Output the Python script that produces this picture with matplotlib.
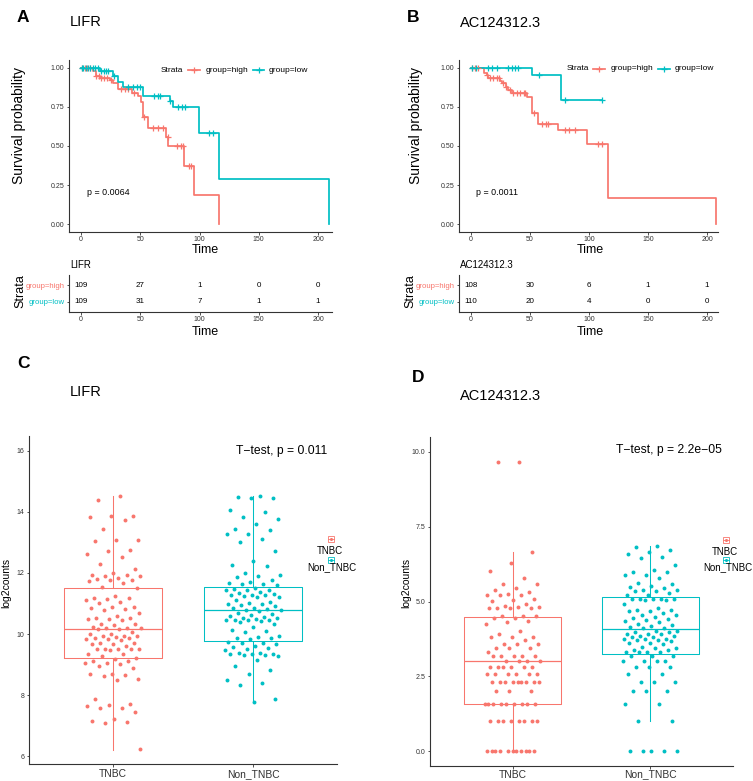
import matplotlib
matplotlib.use('Agg')
import matplotlib.pyplot as plt
import numpy as np
from matplotlib.lines import Line2D
from matplotlib.patches import Rectangle

plt.rcParams['font.family'] = ['Liberation Sans', 'DejaVu Sans']

RED = '#F8766D'
TEAL = '#00BFC4'
AXC = '#333333'

# ---------------- data ----------------
km_ticks = [0, 50, 100, 150, 200]
strata = ['group=high', 'group=low']

# LIFR Kaplan-Meier
lifr_high_time = [0, 10.4, 12.7, 16, 24.5, 27, 31.5, 43.3, 47.8, 50.6, 52, 56.8, 71.7, 73.7, 87.2, 95.4, 116.7]
lifr_high_surv = [1.0, 0.98, 0.95, 0.937, 0.925, 0.905, 0.867, 0.84, 0.82, 0.78, 0.685, 0.615, 0.56, 0.50, 0.374, 0.186, 0.0]
lifr_high_cens = [1, 3, 5, 8, 13, 15, 17, 19, 22, 25, 34, 37, 40, 45, 53, 61, 65, 69, 73, 81, 84, 86, 91, 93]
lifr_low_time = [0, 16, 27, 31.5, 35.7, 52.6, 75.1, 77.4, 99.9, 116.7, 209]
lifr_low_surv = [1.0, 0.98, 0.95, 0.91, 0.88, 0.82, 0.79, 0.75, 0.58, 0.29, 0.0]
lifr_low_cens = [0.5, 2, 4, 6, 8, 10, 12, 14, 17, 19, 21, 23, 28, 40, 44, 47, 50, 62, 65, 67, 75.5, 82, 85, 88, 108, 111]
lifr_pval = 'p = 0.0064'
lifr_risk_high = [109, 27, 1, 0, 0]
lifr_risk_low = [109, 31, 7, 1, 1]

# AC124312.3 Kaplan-Meier
ac_high_time = [0, 11.3, 13.3, 14.7, 24.6, 26, 29.4, 31.7, 34.5, 47.2, 51.5, 56.6, 73.5, 98.7, 115.7, 207.9]
ac_high_surv = [1.0, 0.968, 0.951, 0.936, 0.914, 0.90, 0.878, 0.861, 0.839, 0.814, 0.711, 0.640, 0.60, 0.512, 0.169, 0.0]
ac_high_cens = [0.5, 3.4, 6.2, 13.5, 16, 19, 22, 24, 27.4, 30, 33, 36, 38.8, 41.6, 44.5, 46, 53.7, 60, 63.6, 65.6, 80, 83, 88, 108, 111]
ac_low_time = [0, 51.7, 76, 111]
ac_low_surv = [1.0, 0.951, 0.797, 0.797]
ac_low_cens = [0.5, 4, 14.7, 18, 22, 31.7, 34.5, 37.3, 40, 58, 79.8, 111]
ac_pval = 'p = 0.0011'
ac_risk_high = [108, 30, 6, 1, 1]
ac_risk_low = [110, 20, 4, 0, 0]

# Expression boxplots
box_groups = ['TNBC', 'Non_TNBC']
lifr_tnbc = [14.53, 14.38, 13.87, 13.86, 13.84, 13.73, 13.43, 13.07, 13.07, 13.05, 12.74, 12.72, 12.61,
             12.54, 12.31, 12.12, 12.01, 11.94, 11.92, 11.90, 11.89, 11.83, 11.79, 11.77, 11.77, 11.74,
             11.68, 11.54, 11.50, 11.26, 11.19, 11.17, 11.14, 11.10, 11.06, 11.01, 10.90, 10.90, 10.84,
             10.81, 10.79, 10.70, 10.59, 10.52, 10.52, 10.48, 10.48, 10.46, 10.34, 10.32, 10.29, 10.23,
             10.21, 10.19, 10.19, 10.18, 10.15, 10.05, 10.01, 9.99, 9.95, 9.94, 9.93, 9.91, 9.88, 9.88,
             9.85, 9.83, 9.80, 9.72, 9.70, 9.68, 9.66, 9.61, 9.51, 9.51, 9.50, 9.50, 9.50, 9.49, 9.36,
             9.33, 9.29, 9.23, 9.19, 9.12, 9.12, 9.06, 9.04, 9.01, 8.95, 8.90, 8.69, 8.68, 8.65, 8.61,
             8.52, 8.50, 7.86, 7.70, 7.66, 7.64, 7.59, 7.56, 7.45, 7.20, 7.15, 7.13, 7.07, 6.22]
lifr_non = [14.53, 14.50, 14.47, 14.45, 14.07, 14.01, 13.85, 13.76, 13.60, 13.45, 13.42, 13.27, 13.27,
            13.13, 13.03, 12.72, 12.39, 12.26, 12.22, 12.00, 11.94, 11.89, 11.87, 11.76, 11.72, 11.68,
            11.63, 11.63, 11.61, 11.52, 11.46, 11.44, 11.43, 11.43, 11.39, 11.36, 11.30, 11.28, 11.28,
            11.27, 11.25, 11.21, 11.21, 11.11, 11.05, 11.02, 10.97, 10.97, 10.95, 10.92, 10.86, 10.84,
            10.83, 10.79, 10.78, 10.76, 10.70, 10.65, 10.62, 10.59, 10.56, 10.54, 10.52, 10.48, 10.47,
            10.47, 10.45, 10.45, 10.43, 10.38, 10.32, 10.24, 10.12, 10.10, 10.05, 9.93, 9.90, 9.88, 9.88,
            9.83, 9.75, 9.72, 9.71, 9.66, 9.61, 9.58, 9.53, 9.50, 9.47, 9.39, 9.38, 9.36, 9.36, 9.36,
            9.31, 9.30, 9.27, 9.14, 8.95, 8.82, 8.70, 8.50, 8.40, 8.32, 7.86, 7.78]
ac_tnbc = ([9.67, 9.67, 6.64, 6.29, 6.03, 5.80, 5.59, 5.57, 5.46, 5.38, 5.32, 5.24, 5.21, 5.21, 5.21,
            5.08, 5.05, 5.01, 4.92, 4.86, 4.81, 4.80, 4.77, 4.77, 4.77, 4.77, 4.52, 4.52, 4.52, 4.46,
            4.46, 4.35, 4.32, 4.24, 4.01, 3.91, 3.81, 3.81, 3.81, 3.72, 3.58, 3.58, 3.58, 3.46, 3.46,
            3.46, 3.32, 3.17, 3.17, 3.17, 3.17, 3.17, 3.0, 3.0, 3.0, 3.0]
           + [2.81] * 6 + [2.58] * 6 + [2.32] * 9 + [2.0] * 3 + [1.58] * 9 + [1.0] * 8 + [0.0] * 11)
ac_non = ([6.86, 6.81, 6.72, 6.64, 6.58, 6.50, 6.46, 6.22, 6.05, 5.98, 5.97, 5.90, 5.88, 5.77, 5.63,
           5.57, 5.53, 5.48, 5.46, 5.40, 5.40, 5.36, 5.36, 5.30, 5.21, 5.21, 5.10, 5.10, 5.10, 5.10,
           5.10, 5.05, 5.05, 4.91, 4.77, 4.71, 4.71, 4.69, 4.68, 4.62, 4.55, 4.54, 4.47, 4.46, 4.41,
           4.38, 4.34, 4.32, 4.24, 4.23, 4.17, 4.16, 4.13, 4.10, 4.02, 4.01, 3.99, 3.99, 3.93, 3.90,
           3.90, 3.84, 3.84, 3.82, 3.82, 3.74, 3.74, 3.74, 3.71, 3.71, 3.68, 3.60, 3.60, 3.58, 3.49,
           3.46, 3.46, 3.38, 3.38]
          + [3.32] * 4 + [3.17] * 3 + [3.0] * 4 + [2.81] * 3 + [2.58] * 2 + [2.32] * 3 + [2.0] * 3
          + [1.58] * 2 + [1.0] * 2 + [0.0] * 5)
# box statistics: (whislo, q1, med, q3, whishi)
lifr_box = [(6.21, 9.21, 10.17, 11.50, 14.52), (7.77, 9.77, 10.80, 11.55, 14.52)]
ac_box = [(0.0, 1.585, 3.0, 4.49, 6.64), (1.0, 3.24, 4.09, 5.16, 6.87)]
lifr_test = 'T\u2212test, p = 0.011'
ac_test = 'T\u2212test, p = 2.2e\u221205'

# ---------------- layout helpers ----------------
W, H = 753, 781
fig = plt.figure(figsize=(W / 100, H / 100), dpi=100)


def add_ax(l, t, r, b):
    return fig.add_axes([l / W, 1 - b / H, (r - l) / W, (b - t) / H])


def ftext(x, y, s, **kw):
    kw.setdefault('va', 'center')
    fig.text(x / W, 1 - y / H, s, **kw)


def style(ax):
    for s in ['top', 'right']:
        ax.spines[s].set_visible(False)
    for s in ['left', 'bottom']:
        ax.spines[s].set_color(AXC)
        ax.spines[s].set_linewidth(0.8)
    ax.tick_params(length=1.8, width=0.6, color=AXC, labelsize=5, labelcolor=AXC, pad=1.5)
    ax.tick_params(axis='x', pad=1.0)
    ax.set_facecolor('none')


def surv_at(times, survs, t):
    return survs[np.searchsorted(times, t, side='right') - 1]


def km_panel(l, t, r, b, x0px, x200px, curves, pval, pxy):
    ax = add_ax(l, t, r, b)
    style(ax)
    scale = (x200px - x0px) / 200.0
    ax.set_xlim(-(x0px - l) / scale, (r - x0px) / scale)
    ax.set_ylim(-0.05, 1.05)
    for times, survs, cens, col in curves:
        ax.step(times, survs, where='post', color=col, lw=1.25, zorder=3)
        cy = [surv_at(np.array(times), survs, c) for c in cens]
        ax.plot(cens, cy, ls='none', marker='+', ms=4.2, mew=0.9, color=col, zorder=4)
    ax.set_xticks(km_ticks)
    ax.set_yticks([0, 0.25, 0.5, 0.75, 1.0])
    ax.set_yticklabels(['0.00', '0.25', '0.50', '0.75', '1.00'])
    ax.text(pxy[0], pxy[1], pval, fontsize=6.4, color='black', va='center', ha='left')
    return ax


def risk_panel(l, t, r, b, x0px, x200px, high, low):
    ax = add_ax(l, t, r, b)
    style(ax)
    scale = (x200px - x0px) / 200.0
    ax.set_xlim(-(x0px - l) / scale, (r - x0px) / scale)
    ax.set_ylim(0.4, 2.6)
    ax.set_xticks(km_ticks)
    ax.set_yticks([2, 1])
    ax.set_yticklabels(strata, fontsize=5.6)
    for lab, col in zip(ax.get_yticklabels(), [RED, TEAL]):
        lab.set_color(col)
    for tt, nh, nl in zip(km_ticks, high, low):
        ax.text(tt, 2, str(nh), ha='center', va='center', fontsize=5.8, color='black')
        ax.text(tt, 1, str(nl), ha='center', va='center', fontsize=5.8, color='black')
    return ax


def km_legend(y, xs):
    # xs: Strata-left, red key (x0,x1), high-left, teal key (x0,x1), low-left
    ftext(xs[0], y, 'Strata', fontsize=6, ha='left')
    for (k0, k1), col in [(xs[1], RED), (xs[3], TEAL)]:
        fig.add_artist(Line2D([k0 / W, k1 / W], [1 - y / H] * 2, color=col, lw=1.25,
                              transform=fig.transFigure))
        fig.add_artist(Line2D([(k0 + k1) / 2 / W], [1 - y / H], color=col, marker='+', ms=4.2,
                              mew=0.9, ls='none', transform=fig.transFigure))
    ftext(xs[2], y, strata[0], fontsize=6, ha='left')
    ftext(xs[4], y, strata[1], fontsize=6, ha='left')


def box_panel(l, t, r, b, ylim, yticks, ylabels, groups, stats, xpad):
    ax = add_ax(l, t, r, b)
    style(ax)
    ax.set_xlim(0.4, 2.6)
    ax.set_ylim(*ylim)
    for i, (vals, st, col) in enumerate(zip(groups, stats, [RED, TEAL])):
        pos = i + 1
        d = dict(whislo=st[0], q1=st[1], med=st[2], q3=st[3], whishi=st[4], fliers=[])
        ax.bxp([d], positions=[pos], widths=0.7, showcaps=False, showfliers=False,
               boxprops=dict(color=col, lw=0.75), whiskerprops=dict(color=col, lw=0.75),
               medianprops=dict(color=col, lw=0.9), manage_ticks=False, zorder=2)
        n = len(vals)
        jit = (((np.arange(n) + 1) * 0.6180339887) % 1.0 - 0.5) * 0.4
        ax.scatter(pos + jit, vals, s=8, color=col, lw=0, zorder=3)
    ax.set_xticks([1, 2])
    ax.set_xticklabels(box_groups, fontsize=7.4, color=AXC)
    ax.tick_params(axis='x', pad=xpad)
    ax.set_yticks(yticks)
    ax.set_yticklabels(ylabels)
    return ax


def box_legend(kx, ky1, ky2, tx1, ty1, tx2, ty2):
    for ky, col in [(ky1, RED), (ky2, TEAL)]:
        s = 6.0
        fig.add_artist(Rectangle(((kx - s / 2) / W, 1 - (ky + s / 2) / H), s / W, s / H,
                                 fill=False, ec=col, lw=0.6, transform=fig.transFigure))
        fig.add_artist(Line2D([(kx - s / 2) / W, (kx + s / 2) / W], [1 - ky / H] * 2, color=col,
                              lw=0.6, transform=fig.transFigure))
        fig.add_artist(Line2D([kx / W], [1 - ky / H], marker='o', ms=2.2, color=col, mew=0,
                              ls='none', transform=fig.transFigure))
    ftext(tx1, ty1, box_groups[0], fontsize=7, ha='center', color='black')
    ftext(tx2, ty2, box_groups[1], fontsize=7, ha='center', color='black')


# ---------------- Panel A ----------------
ftext(17, 17, 'A', fontsize=12.5, fontweight='bold', ha='left')
ftext(70, 22, 'LIFR', fontsize=10.5, ha='left')
km_panel(69, 60, 332, 232, 81, 318,
         [(lifr_high_time, lifr_high_surv, lifr_high_cens, RED),
          (lifr_low_time, lifr_low_surv, lifr_low_cens, TEAL)],
         lifr_pval, (5, 0.2))
km_legend(70, [161, (188, 200), 206, (253, 264), 269])
ftext(19, 125, 'Survival probability', fontsize=10, rotation=90, ha='center')
ftext(205, 250, 'Time', fontsize=9, ha='center')
ftext(70, 265, 'LIFR', fontsize=7, ha='left')
risk_panel(69, 275, 332, 312, 81, 318, lifr_risk_high, lifr_risk_low)
ftext(20, 291, 'Strata', fontsize=9, rotation=90, ha='center')
ftext(205, 332, 'Time', fontsize=9, ha='center')

# ---------------- Panel B ----------------
ftext(407, 17, 'B', fontsize=12.5, fontweight='bold', ha='left')
ftext(460, 23, 'AC124312.3', fontsize=10.5, ha='left')
km_panel(459, 60, 718, 232, 471, 707,
         [(ac_high_time, ac_high_surv, ac_high_cens, RED),
          (ac_low_time, ac_low_surv, ac_low_cens, TEAL)],
         ac_pval, (4.2, 0.2))
km_legend(69, [567, (593, 605), 611, (658, 670), 675])
ftext(416, 125, 'Survival probability', fontsize=10, rotation=90, ha='center')
ftext(590, 250, 'Time', fontsize=9, ha='center')
ftext(460, 265, 'AC124312.3', fontsize=7, ha='left')
risk_panel(459, 275, 718, 312, 471, 707, ac_risk_high, ac_risk_low)
ftext(410, 291, 'Strata', fontsize=9, rotation=90, ha='center')
ftext(590, 332, 'Time', fontsize=9, ha='center')

# ---------------- Panel C ----------------
ftext(17, 364, 'C', fontsize=12.5, fontweight='bold', ha='left')
ftext(70, 392, 'LIFR', fontsize=10.5, ha='left')
axC = box_panel(29, 436, 337, 764, (5.74, 16.49), [6, 8, 10, 12, 14, 16],
                ['6', '8', '10', '12', '14', '16'], [lifr_tnbc, lifr_non], lifr_box, 2)
axC.text(1.88, 16.0, lifr_test, fontsize=8.7, ha='left', va='center', color='black')
ftext(6, 583, 'log2counts', fontsize=7.5, rotation=90, ha='center')
box_legend(331, 539, 560, 330, 551, 332, 567)

# ---------------- Panel D ----------------
ftext(412, 377, 'D', fontsize=12.5, fontweight='bold', ha='left')
ftext(460, 396, 'AC124312.3', fontsize=10.5, ha='left')
axD = box_panel(430, 437, 733, 766, (-0.5, 10.5), [0, 2.5, 5.0, 7.5, 10.0],
                ['0.0', '2.5', '5.0', '7.5', '10.0'], [ac_tnbc, ac_non], ac_box, 0.8)
axD.text(1.75, 10.05, ac_test, fontsize=8.7, ha='left', va='center', color='black')
ftext(406, 583, 'log2counts', fontsize=7.5, rotation=90, ha='center')
box_legend(726, 540, 560, 725, 552, 728, 567)

fig.savefig('out.png', dpi=100, facecolor='white')
